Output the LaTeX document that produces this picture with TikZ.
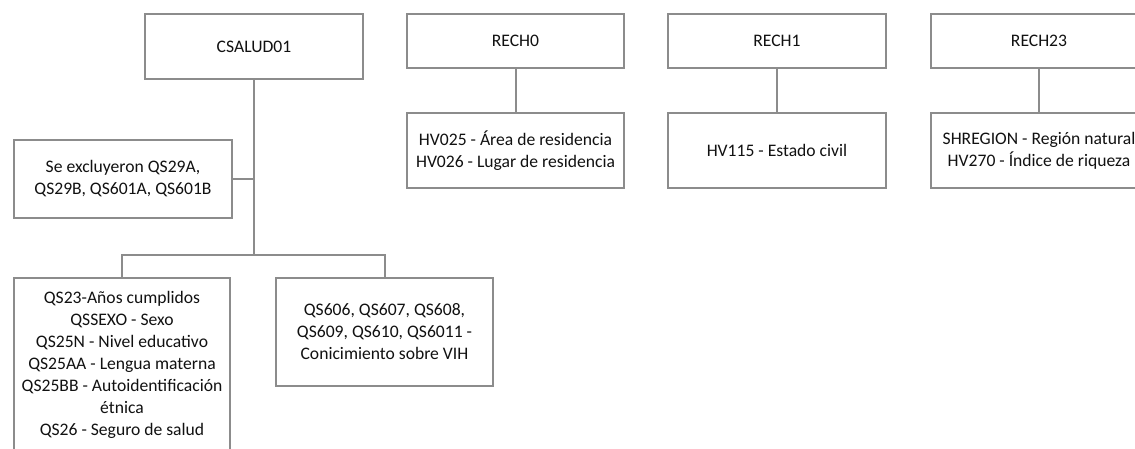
\documentclass[tikz,border=0pt]{standalone}
\usepackage{fontspec}
\setmainfont{Carlito}
\definecolor{linegray}{HTML}{8C8C8C}
\definecolor{txt}{HTML}{111111}
\begin{document}
\begin{tikzpicture}[x=1pt,y=-1pt,
  box/.style={draw=linegray, line width=2pt, fill=white, align=center, inner sep=0pt,
    text=txt, font=\fontsize{17.6}{22}\selectfont},
  conn/.style={draw=linegray, line width=2pt}]
\useasboundingbox (0,0) rectangle (1135,448);
\clip (0,0) rectangle (1135,448);
% CSALUD01 tree
\node[box, minimum width=218pt, minimum height=65pt] (cs) at (254,46.5) {CSALUD01};
\node[box, minimum width=218pt, minimum height=78pt] (se) at (123,179) {Se excluyeron QS29A,\\QS29B, QS601A, QS601B};
\node[box, minimum width=216pt, minimum height=174pt] (dem) at (122,365) {QS23-Años cumplidos\\QSSEXO - Sexo\\QS25N - Nivel educativo\\QS25AA - Lengua materna\\QS25BB - Autoidentificación\\étnica\\QS26 - Seguro de salud};
\node[box, minimum width=217pt, minimum height=108pt] (vih) at (384.5,332) {QS606, QS607, QS608,\\QS609, QS610, QS6011 -\\Conicimiento sobre VIH};
\coordinate (bar) at (254,255);
\draw[conn] (cs.south) -- (bar);
\draw[conn] (se.east) -- (se.east -| cs.south);
\draw[conn] (dem.north) |- (bar) -| (vih.north);
% RECH0
\node[box, minimum width=217pt, minimum height=54pt] (r0) at (515.5,41) {RECH0};
\node[box, minimum width=217pt, minimum height=75pt] (r0c) at (515.5,150.5) {HV025 - Área de residencia\\HV026 - Lugar de residencia};
\draw[conn] (r0.south) -- (r0c.north);
% RECH1
\node[box, minimum width=218pt, minimum height=54pt] (r1) at (777,41) {RECH1};
\node[box, minimum width=218pt, minimum height=75pt] (r1c) at (777,150.5) {HV115 - Estado civil};
\draw[conn] (r1.south) -- (r1c.north);
% RECH23
\node[box, minimum width=216pt, minimum height=54pt] (r23) at (1039,41) {RECH23};
\node[box, minimum width=216pt, minimum height=75pt] (r23c) at (1039,150.5) {SHREGION - Región natural\\HV270 - Índice de riqueza};
\draw[conn] (r23.south) -- (r23c.north);
\end{tikzpicture}
\end{document}
